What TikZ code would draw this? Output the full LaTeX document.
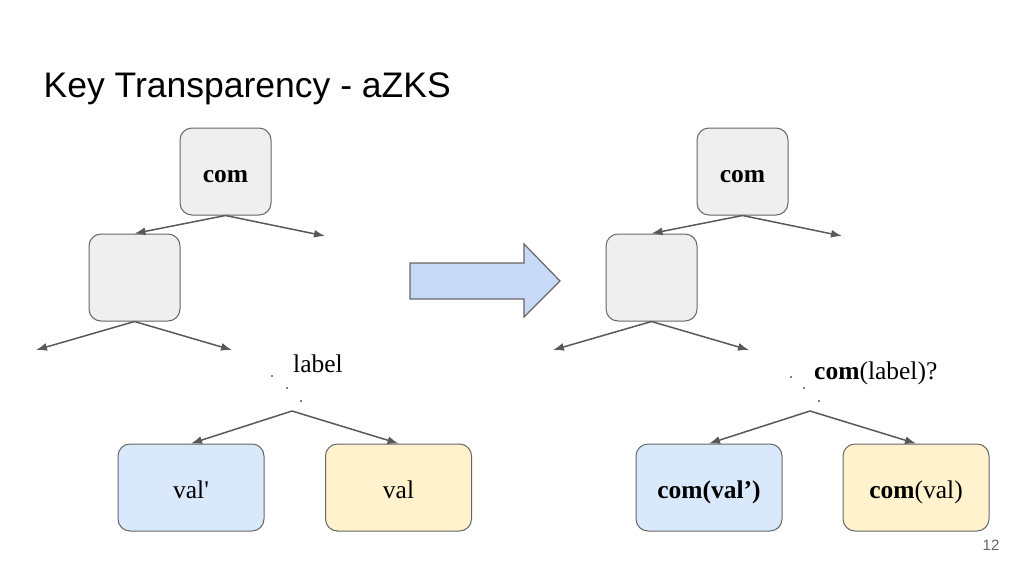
\documentclass[tikz,border=0pt]{standalone}
\usepackage{fontspec}
\setmainfont{Liberation Serif}[Ligatures=TeXOff]
\newfontfamily\titlefont{Liberation Sans}
\usetikzlibrary{arrows.meta}
\definecolor{boxgray}{HTML}{EFEFEF}
\definecolor{boxblue}{HTML}{DAE8FC}
\definecolor{boxyellow}{HTML}{FFF2CC}
\definecolor{border}{HTML}{666666}
\definecolor{edgecol}{HTML}{595959}
\definecolor{bigarrow}{HTML}{C9DAF8}
\tikzset{
  treebox/.style={draw=border, line width=1pt, rounded corners=12pt, fill=boxgray,
    minimum width=91pt, minimum height=87pt, inner sep=0pt,
    text height=22pt, text depth=0pt,
    font=\fontsize{25.5}{30}\selectfont},
  leafbox/.style={treebox, minimum width=146pt},
  edgearrow/.style={draw=edgecol, line width=1.5pt, -{Latex[length=11pt,width=8pt]}},
  lbl/.style={inner sep=0pt, font=\fontsize{25.5}{30}\selectfont},
  dotmark/.style={fill=black, radius=0.9pt}
}
\begin{document}
\begin{tikzpicture}[x=1pt,y=-1pt]
\useasboundingbox (0,0) rectangle (1024,576);
% title
\node[anchor=base west, inner sep=0pt, font=\titlefont\fontsize{35.5}{40}\selectfont] (title) at (43.5,97) {Key Transparency - aZKS};
\node[font=\titlefont\fontsize{15}{17}\selectfont, text=border, inner sep=0pt] (page) at (991,545) {12};

% ---------- left tree ----------
\node[treebox] (lroot) at (225.5,171.5) {\textbf{com}};
\node[treebox] (lchild) at (134.5,277.5) {};
\coordinate (lr1) at (325,236);
\coordinate (lc1) at (36,350);
\coordinate (lc2) at (232,350);
\draw[edgearrow] (lroot.south) -- (lchild.north);
\draw[edgearrow] (lroot.south) -- (lr1);
\draw[edgearrow] (lchild.south) -- (lc1);
\draw[edgearrow] (lchild.south) -- (lc2);
\node[lbl, anchor=base] (llabel) at (318,372) {label};
\fill[dotmark] (272,376) circle;
\fill[dotmark] (287,388) circle;
\fill[dotmark] (301,401) circle;
\coordinate (lapex) at (292,411);
\node[leafbox, fill=boxblue] (lval1) at (191,487.5) {val'};
\node[leafbox, fill=boxyellow] (lval) at (398.5,487.5) {val};
\draw[edgearrow] (lapex) -- (lval1.north);
\draw[edgearrow] (lapex) -- (lval.north);

% ---------- big arrow ----------
\draw[draw=border, line width=1.2pt, fill=bigarrow, line join=miter]
  (410,263) -- (524,263) -- (524,244) -- (560,281) -- (524,317) -- (524,299) -- (410,299) -- cycle;

% ---------- right tree ----------
\node[treebox] (rroot) at (742.5,171.5) {\textbf{com}};
\node[treebox] (rchild) at (651.5,277.5) {};
\coordinate (rr1) at (842,236);
\coordinate (rc1) at (553,350);
\coordinate (rc2) at (749,350);
\draw[edgearrow] (rroot.south) -- (rchild.north);
\draw[edgearrow] (rroot.south) -- (rr1);
\draw[edgearrow] (rchild.south) -- (rc1);
\draw[edgearrow] (rchild.south) -- (rc2);
\node[lbl, anchor=base west] (rlabel) at (814,379) {\textbf{com}(label)?};
\fill[dotmark] (791,377) circle;
\fill[dotmark] (804,388) circle;
\fill[dotmark] (819,401) circle;
\coordinate (rapex) at (810,411);
\node[leafbox, fill=boxblue] (rval1) at (709,487.5) {\textbf{com(val’)}};
\node[leafbox, fill=boxyellow] (rval) at (916,487.5) {\textbf{com}(val)};
\draw[edgearrow] (rapex) -- (rval1.north);
\draw[edgearrow] (rapex) -- (rval.north);
\end{tikzpicture}
\end{document}
